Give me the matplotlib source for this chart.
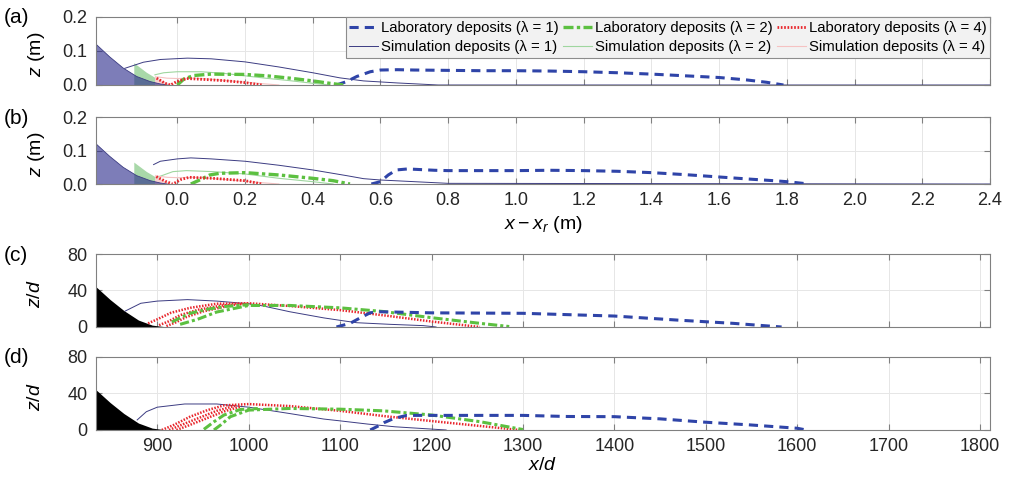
import matplotlib
matplotlib.use("Agg")
from matplotlib import pyplot as plt

plt.rcParams['font.family'] = ['Liberation Sans', 'DejaVu Sans']
plt.rcParams['mathtext.fontset'] = 'custom'
plt.rcParams['mathtext.rm'] = 'Liberation Sans'
plt.rcParams['mathtext.it'] = 'Liberation Sans:italic'

# ---- ramps, panels (a)/(b): x - x_r (m), z (m)
ramp1_x = [-0.24, -0.20, -0.16, -0.12, -0.08, -0.05, -0.03]
ramp1_z = [0.120, 0.083, 0.050, 0.025, 0.010, 0.003, 0.0]
ramp2_x = [-0.127, -0.127, -0.09, -0.05, -0.02]
ramp2_z = [0.0, 0.064, 0.036, 0.012, 0.0]
ramp4_x = [-0.066, -0.066, -0.045, -0.02]
ramp4_z = [0.0, 0.028, 0.012, 0.0]

# ---- panel (a)
a_sim1_x = [-0.155, -0.10, -0.05, 0.03, 0.10, 0.20, 0.30, 0.40, 0.48, 0.55, 0.65, 0.77, 2.4]
a_sim1_z = [0.049, 0.067, 0.075, 0.079, 0.077, 0.068, 0.053, 0.036, 0.021, 0.012, 0.006, 0.0, 0.0]
a_sim2_x = [-0.066, -0.04, 0.0, 0.07, 0.14, 0.20, 0.26, 0.33, 0.40, 0.45]
a_sim2_z = [0.030, 0.036, 0.039, 0.039, 0.034, 0.027, 0.020, 0.013, 0.005, 0.0]
a_sim4_x = [-0.06, -0.03, 0.0, 0.05, 0.10, 0.18, 0.25, 0.30]
a_sim4_z = [0.024, 0.020, 0.019, 0.020, 0.017, 0.010, 0.004, 0.0]
a_lab1_x = [0.47, 0.50, 0.53, 0.57, 0.60, 0.65, 0.70, 0.80, 0.90, 1.00, 1.10, 1.20, 1.30,
            1.40, 1.50, 1.60, 1.68, 1.74, 1.79]
a_lab1_z = [0.0, 0.010, 0.025, 0.039, 0.044, 0.045, 0.044, 0.043, 0.042, 0.042, 0.041, 0.039,
            0.036, 0.032, 0.027, 0.022, 0.015, 0.008, 0.0]
a_lab2_x = [0.0, 0.02, 0.05, 0.10, 0.20, 0.264, 0.333, 0.40, 0.45, 0.49]
a_lab2_z = [0.0, 0.018, 0.028, 0.032, 0.031, 0.027, 0.020, 0.012, 0.005, 0.0]
a_lab4_x = [-0.061, -0.036, -0.02, -0.002, 0.028, 0.067, 0.136, 0.20, 0.25]
a_lab4_z = [0.020, 0.005, 0.0, 0.010, 0.019, 0.017, 0.013, 0.007, 0.0]

# ---- panel (b)
b_sim1_x = [-0.07, -0.05, 0.0, 0.04, 0.10, 0.20, 0.30, 0.40, 0.50, 0.55, 0.60, 0.70, 0.80, 2.4]
b_sim1_z = [0.058, 0.068, 0.075, 0.078, 0.075, 0.068, 0.056, 0.042, 0.025, 0.016, 0.012, 0.007, 0.002, 0.0]
b_sim2_x = [-0.062, -0.013, 0.027, 0.105, 0.20, 0.30, 0.40, 0.46]
b_sim2_z = [0.019, 0.037, 0.040, 0.037, 0.030, 0.017, 0.007, 0.0]
b_sim4_x = [-0.06, -0.03, 0.0, 0.05, 0.10, 0.18, 0.25, 0.30]
b_sim4_z = [0.024, 0.020, 0.019, 0.020, 0.017, 0.010, 0.004, 0.0]
b_lab1_x = [0.573, 0.60, 0.623, 0.647, 0.68, 0.76, 0.80, 1.0, 1.1, 1.2, 1.3, 1.4, 1.5, 1.6,
            1.7, 1.76, 1.8, 1.866]
b_lab1_z = [0.0, 0.007, 0.027, 0.042, 0.045, 0.041, 0.040, 0.040, 0.041, 0.040, 0.038, 0.034,
            0.028, 0.021, 0.014, 0.010, 0.007, 0.0]
b_lab2_x = [0.04, 0.066, 0.096, 0.125, 0.20, 0.30, 0.40, 0.46, 0.51]
b_lab2_z = [0.0, 0.012, 0.027, 0.032, 0.034, 0.027, 0.017, 0.010, 0.0]
b_lab4_x = [-0.062, -0.035, -0.013, 0.012, 0.036, 0.105, 0.20, 0.25]
b_lab4_z = [0.022, 0.008, 0.0, 0.014, 0.020, 0.017, 0.010, 0.0]

# ---- panels (c)/(d): x/d, z/d
ramp_d_x = [833, 849, 864, 880, 895, 907]
ramp_d_z = [44, 29.5, 17.5, 7, 1.5, 0]

c_sim1_x = [865, 882, 900, 933, 965, 1000, 1016, 1045, 1082, 1100, 1118, 1155, 1191, 1205]
c_sim1_z = [17.5, 26, 28.4, 30, 28.4, 25.5, 23, 16.7, 10, 7.3, 4.7, 2.9, 1.5, 0]
c_lab4_x = [[890, 900, 915, 936, 965, 1000, 1045, 1100, 1150, 1200, 1253],
            [902, 912, 925, 945, 970, 1000],
            [910, 920, 932, 950, 975]]
c_lab4_z = [[4, 8.4, 15.6, 21, 25.5, 26, 23, 18.5, 12.5, 6, 0],
            [2, 6, 13, 19, 23.5, 25.5],
            [1, 5, 11, 17, 22.5]]
c_lab2_x = [[925, 944, 965, 1000, 1045, 1100, 1147, 1200, 1253, 1285],
            [916, 925, 936, 955, 975, 1000]]
c_lab2_z = [[2.9, 8.4, 16.4, 23.6, 23.6, 21, 17, 10.2, 4, 0.5],
            [5.5, 10, 15, 19.5, 22.5, 24.5]]
c_lab1_x = [1096, 1111, 1122, 1133, 1144, 1200, 1300, 1400, 1470, 1530, 1583]
c_lab1_z = [0, 4, 10, 15.6, 16.7, 15.5, 15, 12, 7.5, 4, 0]

d_sim1_x = [878, 888, 900, 930, 965, 1000, 1045, 1082, 1100, 1130, 1160, 1200, 1216]
d_sim1_z = [11, 20, 25, 28.5, 28.5, 25, 18, 12, 10, 6.5, 3.5, 1, 0]
d_lab4_x = [[905, 918, 936, 955, 973, 1000, 1045, 1100, 1150, 1200, 1253, 1296],
            [913, 925, 945, 965, 985],
            [921, 933, 952, 972, 992]]
d_lab4_z = [[0, 5.5, 14.6, 21.8, 27, 28.4, 26.2, 21, 15, 9.8, 4.4, 0],
            [0, 5, 13, 21, 26.5],
            [0, 4.5, 12, 20, 26]]
d_lab2_x = [[962, 970, 980, 1000, 1045, 1100, 1147, 1200, 1253, 1300],
            [951, 962, 973, 991, 1010]]
d_lab2_z = [[0, 6, 14.6, 21.8, 23.6, 22.8, 21, 16.4, 9.1, 0.5],
            [0.7, 9, 16.4, 22.5, 23.5]]
d_lab1_x = [1133, 1144, 1148, 1159, 1173, 1200, 1300, 1348, 1400, 1450, 1500, 1548, 1600, 1610]
d_lab1_z = [0, 5.5, 8, 12.7, 16, 16, 16, 14.8, 14.6, 12.2, 8.5, 5.6, 1.9, 0]

ticks_m = [0.0, 0.2, 0.4, 0.6, 0.8, 1.0, 1.2, 1.4, 1.6, 1.8, 2.0, 2.2, 2.4]
ticks_d = [900, 1000, 1100, 1200, 1300, 1400, 1500, 1600, 1700, 1800]

BLUE = '#2f44a8'
GREEN = '#5cc040'
RED = '#e8262c'
SIM1 = '#3c3c82'
SIM2 = '#9fd69f'
SIM4 = '#f5c2c2'

fig = plt.figure(figsize=(10.15, 4.84), dpi=100)
ax_a = fig.add_axes([0.0946, 0.8244, 0.8808, 0.1405])
ax_b = fig.add_axes([0.0946, 0.6198, 0.8808, 0.1384])
ax_c = fig.add_axes([0.0946, 0.3244, 0.8808, 0.1508])
ax_d = fig.add_axes([0.0946, 0.1116, 0.8808, 0.1508])


def style(ax):
    ax.grid(True, color='#e6e6e6', lw=0.7)
    ax.set_axisbelow(True)
    for s in ax.spines.values():
        s.set_color('#808080')
        s.set_linewidth(0.8)
    ax.tick_params(direction='in', top=True, right=True, length=4, width=0.8,
                   color='#808080', labelsize=13, labelcolor='#262626', pad=6)


def draw_m(ax, sim1, sim2, sim4, lab1, lab2, lab4):
    ax.fill(ramp2_x, ramp2_z, color='#a9d8a9', lw=0)
    ax.fill(ramp4_x, ramp4_z, color='#f7d0d0', lw=0)
    ax.fill(ramp1_x + [ramp1_x[0]], ramp1_z + [0], color='#26268a', alpha=0.6, lw=0)
    ax.plot(ramp1_x, ramp1_z, color=SIM1, lw=0.6)
    h = {}
    h['s1'], = ax.plot(*sim1, color=SIM1, lw=0.7)
    h['s2'], = ax.plot(*sim2, color=SIM2, lw=0.8)
    h['s4'], = ax.plot(*sim4, color=SIM4, lw=0.8)
    h['l1'], = ax.plot(*lab1, color=BLUE, lw=2.2, ls=(0, (3, 2)))
    h['l2'], = ax.plot(*lab2, color=GREEN, lw=2.4, ls=(0, (3, 1, 1, 1)))
    h['l4'], = ax.plot(*lab4, color=RED, lw=2.0, ls=(0, (0.6, 0.6)))
    ax.set_xlim(-0.24, 2.4)
    ax.set_ylim(0, 0.2)
    ax.set_xticks(ticks_m)
    ax.set_yticks([0.0, 0.1, 0.2])
    ax.set_yticklabels(['0.0', '0.1', '0.2'])
    ax.set_ylabel('$z$ (m)', fontsize=14)
    ax.yaxis.set_label_coords(-0.055, 0.45)
    style(ax)
    return h


def draw_d(ax, sim1, lab1, lab2s, lab4s):
    ax.fill(ramp_d_x + [833], ramp_d_z + [0], color='black', lw=0)
    ax.plot(*sim1, color=SIM1, lw=0.7)
    for x, z in zip(*lab4s):
        ax.plot(x, z, color=RED, lw=1.8, ls=(0, (0.6, 0.6)))
    for x, z in zip(*lab2s):
        ax.plot(x, z, color=GREEN, lw=2.2, ls=(0, (3, 1, 1, 1)))
    ax.plot(*lab1, color=BLUE, lw=2.2, ls=(0, (3, 2)))
    ax.set_xlim(833, 1811)
    ax.set_ylim(0, 80)
    ax.set_xticks(ticks_d)
    ax.set_yticks([0, 40, 80])
    ax.set_ylabel('$z/d$', fontsize=14)
    ax.yaxis.set_label_coords(-0.058, 0.45)
    style(ax)


h = draw_m(ax_a, (a_sim1_x, a_sim1_z), (a_sim2_x, a_sim2_z), (a_sim4_x, a_sim4_z),
           (a_lab1_x, a_lab1_z), (a_lab2_x, a_lab2_z), (a_lab4_x, a_lab4_z))
draw_m(ax_b, (b_sim1_x, b_sim1_z), (b_sim2_x, b_sim2_z), (b_sim4_x, b_sim4_z),
       (b_lab1_x, b_lab1_z), (b_lab2_x, b_lab2_z), (b_lab4_x, b_lab4_z))
ax_a.tick_params(labelbottom=False)
ax_b.set_xlabel('$x-x_r$ (m)', fontsize=14, labelpad=3)

draw_d(ax_c, (c_sim1_x, c_sim1_z), (c_lab1_x, c_lab1_z), (c_lab2_x, c_lab2_z), (c_lab4_x, c_lab4_z))
draw_d(ax_d, (d_sim1_x, d_sim1_z), (d_lab1_x, d_lab1_z), (d_lab2_x, d_lab2_z), (d_lab4_x, d_lab4_z))
ax_c.tick_params(labelbottom=False)
ax_d.set_xlabel('$x/d$', fontsize=14, labelpad=1)

labels = ['Laboratory deposits (λ = 1)', 'Simulation deposits (λ = 1)',
          'Laboratory deposits (λ = 2)', 'Simulation deposits (λ = 2)',
          'Laboratory deposits (λ = 4)', 'Simulation deposits (λ = 4)']
handles = [h['l1'], h['s1'], h['l2'], h['s2'], h['l4'], h['s4']]
leg = ax_a.legend(handles, labels, ncol=3, loc='upper right', bbox_to_anchor=(1, 1),
                  borderaxespad=0, fontsize=10.7, handlelength=1.9, handletextpad=0.2,
                  columnspacing=0.35, labelspacing=0.35, borderpad=0.25,
                  fancybox=False, framealpha=1, facecolor='#f2f2f2', edgecolor='#8c8c8c')
leg.get_frame().set_linewidth(0.8)

for lab, y in zip(['(a)', '(b)', '(c)', '(d)'], [0.963, 0.756, 0.473, 0.262]):
    fig.text(0.004, y, lab, fontsize=15, va='center', ha='left')

fig.savefig('out.png', dpi=100)
